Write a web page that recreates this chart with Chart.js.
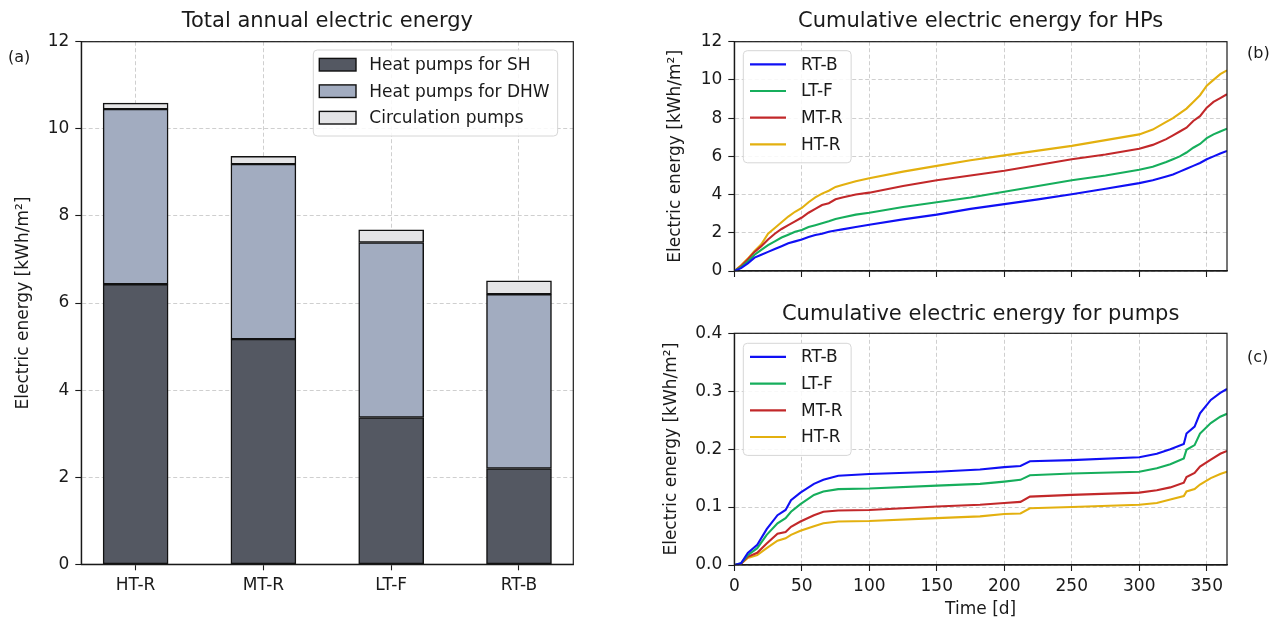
<!DOCTYPE html>
<html lang="en">
<head>
<meta charset="UTF-8">
<title>Electric energy of heat pumps and pumps</title>
<script src="https://cdn.jsdelivr.net/npm/chart.js@4"></script>
<style>
  body { margin: 0; background: #fff; width: 1283px; height: 621px; position: relative; overflow: hidden; font-family: "DejaVu Sans", sans-serif; }
  canvas { position: absolute; }
  .tag { position: absolute; font-size: 16px; line-height: 1; color: #1a1a1a; }
</style>
</head>
<body>
<canvas id="totalChart" style="left:0;top:0" width="640" height="621"></canvas>
<canvas id="hpChart" style="left:640px;top:0" width="643" height="290"></canvas>
<canvas id="pumpChart" style="left:640px;top:290px" width="643" height="331"></canvas>
<span class="tag" style="left:8px;top:49px">(a)</span>
<span class="tag" style="left:1247px;top:45px">(b)</span>
<span class="tag" style="left:1247px;top:349px">(c)</span>
<script>
// annual totals per system [kWh/m2]
const systems = ['HT-R', 'MT-R', 'LT-F', 'RT-B'];
const hpSpaceHeating = [6.43, 5.17, 3.37, 2.20];
const hpHotWater = [4.02, 4.02, 4.02, 4.00];
const circulationPumps = [0.14, 0.18, 0.29, 0.31];

// cumulative heat pump energy over the year
const hpDays = [0, 5, 10, 15, 20, 25, 30, 35, 40, 45, 50, 55, 60, 65, 70, 75, 80, 90, 100, 125,
                150, 175, 200, 225, 250, 275, 300, 310, 320, 325, 330, 335, 340, 345, 350, 355, 360, 365];
const hpRTB = [0, 0.15, 0.4, 0.7, 0.85, 1.0, 1.15, 1.3, 1.45, 1.55, 1.65, 1.78, 1.88, 1.95, 2.05, 2.12, 2.18, 2.3, 2.42, 2.7,
               2.95, 3.25, 3.5, 3.75, 4.02, 4.3, 4.6, 4.75, 4.95, 5.05, 5.2, 5.35, 5.5, 5.65, 5.85, 6.0, 6.15, 6.28];
const hpLTF = [0, 0.2, 0.5, 0.85, 1.1, 1.35, 1.55, 1.75, 1.9, 2.05, 2.15, 2.3, 2.4, 2.5, 2.6, 2.72, 2.8, 2.95, 3.05, 3.35,
               3.6, 3.85, 4.15, 4.45, 4.75, 5.0, 5.3, 5.45, 5.7, 5.85, 6.0, 6.2, 6.45, 6.65, 6.95, 7.15, 7.3, 7.45];
const hpMTR = [0, 0.25, 0.6, 1.0, 1.3, 1.65, 1.95, 2.2, 2.4, 2.6, 2.8, 3.05, 3.25, 3.45, 3.55, 3.75, 3.85, 4.0, 4.1, 4.45,
               4.75, 5.0, 5.25, 5.55, 5.85, 6.1, 6.4, 6.6, 6.9, 7.1, 7.3, 7.5, 7.85, 8.1, 8.55, 8.85, 9.05, 9.25];
const hpHTR = [0, 0.3, 0.65, 1.05, 1.4, 1.95, 2.25, 2.55, 2.85, 3.1, 3.3, 3.6, 3.85, 4.05, 4.2, 4.4, 4.5, 4.7, 4.85, 5.2,
               5.5, 5.8, 6.05, 6.3, 6.55, 6.85, 7.15, 7.4, 7.8, 8.0, 8.25, 8.5, 8.85, 9.2, 9.7, 10.0, 10.3, 10.5];

// cumulative circulation pump energy over the year
const pumpDays = [0, 5, 10, 17, 24, 32, 38, 42, 49, 59, 66, 77, 100, 150, 182, 200, 212, 219, 250, 300,
                  313, 323, 333, 335, 341, 345, 353, 360, 365];
const pumpRTB = [0, 0.003, 0.021, 0.035, 0.062, 0.086, 0.095, 0.112, 0.125, 0.140, 0.147, 0.154, 0.157, 0.161, 0.165,
                 0.169, 0.171, 0.179, 0.181, 0.186, 0.192, 0.200, 0.209, 0.227, 0.239, 0.262, 0.285, 0.297, 0.304];
const pumpLTF = [0, 0.003, 0.017, 0.029, 0.052, 0.072, 0.081, 0.092, 0.105, 0.121, 0.127, 0.131, 0.132, 0.137, 0.140,
                 0.144, 0.147, 0.155, 0.158, 0.161, 0.167, 0.174, 0.184, 0.199, 0.207, 0.227, 0.245, 0.256, 0.261];
const pumpMTR = [0, 0.002, 0.014, 0.021, 0.037, 0.054, 0.057, 0.066, 0.075, 0.086, 0.092, 0.094, 0.095, 0.101, 0.104,
                 0.107, 0.109, 0.118, 0.121, 0.125, 0.129, 0.134, 0.142, 0.152, 0.159, 0.170, 0.182, 0.192, 0.197];
const pumpHTR = [0, 0.002, 0.012, 0.017, 0.029, 0.042, 0.046, 0.052, 0.059, 0.067, 0.072, 0.075, 0.076, 0.081, 0.084,
                 0.088, 0.089, 0.098, 0.100, 0.104, 0.107, 0.113, 0.119, 0.127, 0.131, 0.139, 0.150, 0.157, 0.161];

const dayTicks = [0, 50, 100, 150, 200, 250, 300, 350];
const yLabel = 'Electric energy [kWh/m²]';

Chart.defaults.font.family = '"DejaVu Sans"';
Chart.defaults.font.size = 17;
Chart.defaults.color = '#1a1a1a';

const grid = { color: 'rgba(0,0,0,0.24)', lineWidth: 0.8, offset: false, tickLength: 6, tickColor: '#1a1a1a', tickWidth: 1.1 };
const border = { color: '#1a1a1a', width: 1.2, dash: [4, 2.5] };

// box around the plot area (all four spines)
const frame = {
    id: 'frame',
    afterDatasetsDraw(chart) {
        const { ctx, chartArea: a } = chart;
        ctx.save();
        ctx.strokeStyle = '#1a1a1a';
        ctx.lineWidth = 1.2;
        ctx.strokeRect(a.left, a.top, a.right - a.left, a.bottom - a.top);
        ctx.restore();
    }
};

// legend drawn inside the plot area
const innerLegend = {
    id: 'innerLegend',
    afterDraw(chart, args, opts) {
        const { ctx } = chart;
        const sets = chart.data.datasets;
        ctx.save();
        ctx.font = '17px "DejaVu Sans"';
        const textW = Math.max(...sets.map(d => ctx.measureText(d.label).width));
        const w = opts.pad + opts.sampleW + opts.gap + textW + opts.pad + 2;
        const h = opts.firstRow + (sets.length - 1) * opts.rowH + opts.lastPad;
        const r = 4;
        ctx.beginPath();
        ctx.moveTo(opts.x + r, opts.y);
        ctx.arcTo(opts.x + w, opts.y, opts.x + w, opts.y + h, r);
        ctx.arcTo(opts.x + w, opts.y + h, opts.x, opts.y + h, r);
        ctx.arcTo(opts.x, opts.y + h, opts.x, opts.y, r);
        ctx.arcTo(opts.x, opts.y, opts.x + w, opts.y, r);
        ctx.closePath();
        ctx.fillStyle = 'rgba(255,255,255,0.85)';
        ctx.fill();
        ctx.strokeStyle = '#d6d6d6';
        ctx.lineWidth = 1;
        ctx.stroke();
        sets.forEach((d, i) => {
            const y = opts.y + opts.firstRow + i * opts.rowH;
            const x = opts.x + opts.pad;
            if (chart.config.type === 'bar') {
                ctx.fillStyle = d.backgroundColor;
                ctx.fillRect(x, y - 6.3, opts.sampleW, 12.6);
                ctx.strokeStyle = '#111';
                ctx.lineWidth = 1.4;
                ctx.strokeRect(x, y - 6.3, opts.sampleW, 12.6);
            } else {
                ctx.strokeStyle = d.borderColor;
                ctx.lineWidth = 2.2;
                ctx.beginPath();
                ctx.moveTo(x, y);
                ctx.lineTo(x + opts.sampleW, y);
                ctx.stroke();
            }
            ctx.fillStyle = '#1a1a1a';
            ctx.textBaseline = 'middle';
            ctx.fillText(d.label, x + opts.sampleW + opts.gap, y + 1);
        });
        ctx.restore();
    }
};

// stacked annual totals
new Chart(document.getElementById('totalChart'), {
    type: 'bar',
    data: {
        datasets: [
            { label: 'Heat pumps for SH', data: hpSpaceHeating.map((v, i) => ({ x: i, y: v })), backgroundColor: '#545862' },
            { label: 'Heat pumps for DHW', data: hpHotWater.map((v, i) => ({ x: i, y: v })), backgroundColor: '#a2acc0' },
            { label: 'Circulation pumps', data: circulationPumps.map((v, i) => ({ x: i, y: v })), backgroundColor: '#e4e4e6' }
        ]
    },
    options: {
        responsive: false,
        animation: false,
        datasets: { bar: { barThickness: 65, borderColor: '#111', borderWidth: 1.5, borderSkipped: false } },
        layout: { padding: { left: 0, right: 66.7, top: 0, bottom: 0 } },
        plugins: {
            legend: { display: false },
            tooltip: { enabled: false },
            title: { display: true, fullSize: false, text: 'Total annual electric energy', font: { size: 21, weight: 'normal' }, color: '#1a1a1a', padding: { top: 9.4, bottom: 7.1 } },
            innerLegend: { x: 313.3, y: 50, pad: 6, sampleW: 36.7, gap: 13.3, firstRow: 14.7, rowH: 26.5, lastPad: 18.3 }
        },
        scales: {
            x: {
                type: 'linear', min: -0.425, max: 3.425, stacked: true, offset: false,
                afterBuildTicks: s => { s.ticks = systems.map((_, i) => ({ value: i })); },
                afterFit: s => { s.height = 56.7; },
                ticks: { callback: v => systems[v], padding: 5, maxRotation: 0 },
                grid, border
            },
            y: {
                min: 0, max: 12, stacked: true,
                afterFit: s => { s.width = 81.3; },
                ticks: { stepSize: 2, padding: 6 },
                title: { display: true, text: yLabel, padding: { top: 13.3, bottom: 0 } },
                grid, border
            }
        }
    },
    plugins: [frame, innerLegend]
});

function lineSet(label, days, values, color) {
    return {
        label,
        data: days.map((d, i) => ({ x: d, y: values[i] })),
        borderColor: color,
        backgroundColor: color,
        borderWidth: 2.1,
        pointRadius: 0,
        tension: 0
    };
}

function cumulativeChart(id, title, days, series, yMax, yStep, decimals, opts) {
    new Chart(document.getElementById(id), {
        type: 'line',
        data: {
            datasets: [
                lineSet('RT-B', days, series[0], '#1010f4'),
                lineSet('LT-F', days, series[1], '#16ae5c'),
                lineSet('MT-R', days, series[2], '#c2282a'),
                lineSet('HT-R', days, series[3], '#e3b00f')
            ]
        },
        options: {
            responsive: false,
            animation: false,
            layout: { padding: { left: 0, right: 56, top: 0, bottom: 0 } },
            plugins: {
                legend: { display: false },
                tooltip: { enabled: false },
                title: { display: true, fullSize: false, text: title, font: { size: 21, weight: 'normal' }, color: '#1a1a1a', padding: opts.titlePad },
                innerLegend: { x: 103.3, y: opts.legendY, pad: 6.7, sampleW: 36, gap: 15, firstRow: 13.6, rowH: 26.7, lastPad: 18.4 }
            },
            scales: {
                x: {
                    type: 'linear', min: 0, max: 365,
                    afterBuildTicks: s => { s.ticks = dayTicks.map(v => ({ value: v })); },
                    afterFit: s => { s.height = opts.xHeight; },
                    ticks: { display: opts.showDays, padding: 5, maxRotation: 0 },
                    title: { display: opts.showDays, text: 'Time [d]', padding: { top: 0, bottom: 0.8 } },
                    grid, border
                },
                y: {
                    min: 0, max: yMax,
                    afterFit: s => { s.width = 94.3; },
                    ticks: { stepSize: yStep, padding: 6, callback: v => v.toFixed(decimals) },
                    title: { display: true, text: yLabel, padding: { top: opts.yTitleX, bottom: 0 } },
                    grid, border
                }
            }
        },
        plugins: [frame, innerLegend]
    });
}

cumulativeChart('hpChart', 'Cumulative electric energy for HPs', hpDays, [hpRTB, hpLTF, hpMTR, hpHTR], 12, 2, 0,
    { titlePad: { top: 9.4, bottom: 7.1 }, legendY: 50.7, xHeight: 19, showDays: false, yTitleX: 25.8 });
cumulativeChart('pumpChart', 'Cumulative electric energy for pumps', pumpDays, [pumpRTB, pumpLTF, pumpMTR, pumpHTR], 0.4, 0.1, 1,
    { titlePad: { top: 11.7, bottom: 6.4 }, legendY: 53.3, xHeight: 56, showDays: true, yTitleX: 21.8 });
</script>
</body>
</html>
